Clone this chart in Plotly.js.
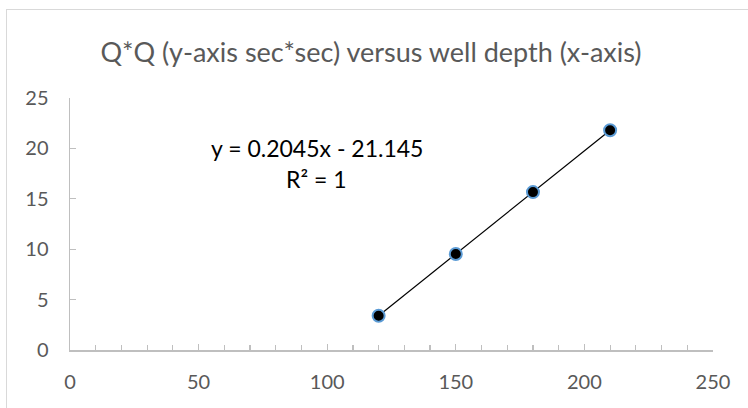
<!DOCTYPE html>
<html>
<head>
<meta charset="utf-8">
<script src="https://cdn.plot.ly/plotly-3.0.1.min.js"></script>
<style>
  html, body { margin: 0; padding: 0; background: #ffffff; }
  #wrap { position: relative; width: 748px; height: 408px; overflow: hidden; background: #ffffff; }
  #frame { position: absolute; left: 6px; top: 9px; width: 760px; height: 420px; border: 1px solid #d9d9d9; box-sizing: border-box; pointer-events: none; }
  #chart { position: absolute; left: 0; top: 0; width: 748px; height: 408px; }
</style>
</head>
<body>
<div id="wrap">
  <div id="chart"></div>
  <div id="frame"></div>
</div>
<script>
// ---- data ----
const depth = [120, 150, 180, 210];
const qq = [3.395, 9.53, 15.665, 21.8];
const xTicks = [0, 50, 100, 150, 200, 250];
const yTicks = [0, 5, 10, 15, 20, 25];
const titleText = 'Q*Q (y-axis sec*sec) versus well depth (x-axis)';
const eqLine = 'y = 0.2045x - 21.145';
const r2Line = 'R² = 1';

// linear least-squares trendline from the data
const n = depth.length;
const mx = depth.reduce((a, b) => a + b, 0) / n;
const my = qq.reduce((a, b) => a + b, 0) / n;
let sxy = 0, sxx = 0;
for (let i = 0; i < n; i++) { sxy += (depth[i] - mx) * (qq[i] - my); sxx += (depth[i] - mx) ** 2; }
const slope = sxy / sxx;
const icpt = my - slope * mx;
const xMin = Math.min(...depth), xMax = Math.max(...depth);
const trendX = [xMin, xMax];
const trendY = trendX.map(v => slope * v + icpt);

const FONT = 'Lato, "Open Sans", sans-serif';
const GREY = '#595959';
const AXIS = '#bfbfbf';

const traces = [
  { x: trendX, y: trendY, mode: 'lines', line: { color: '#000000', width: 1.2 }, hoverinfo: 'skip', showlegend: false },
  { x: depth, y: qq, mode: 'markers', showlegend: false,
    marker: { size: 12, color: '#000000', line: { color: '#5b9bd5', width: 2 } } }
];

const layout = {
  width: 748, height: 408,
  margin: { l: 70, r: 35, t: 98, b: 58 },
  paper_bgcolor: 'rgba(0,0,0,0)', plot_bgcolor: 'rgba(0,0,0,0)',
  font: { family: FONT, color: GREY },
  title: { text: titleText, font: { family: FONT, size: 27, color: GREY },
           x: 0.496, xref: 'container', xanchor: 'center', y: 0.872, yref: 'container', yanchor: 'middle' },
  xaxis: {
    range: [0, 250], tickvals: xTicks, ticktext: xTicks.map(String),
    showgrid: false, zeroline: false, showline: true, linecolor: AXIS, linewidth: 1.5,
    ticks: 'inside', ticklen: 6, tickcolor: AXIS, tickwidth: 1.2,
    minor: { dtick: 10, ticks: 'inside', ticklen: 5, tickcolor: AXIS, tickwidth: 1.2, showgrid: false },
    tickfont: { family: FONT, size: 20, color: GREY }, ticklabelstandoff: 13, fixedrange: true
  },
  yaxis: {
    range: [0, 25], tickvals: yTicks, ticktext: yTicks.map(String),
    showgrid: false, zeroline: false, showline: true, linecolor: AXIS, linewidth: 1.5,
    ticks: 'inside', ticklen: 6, tickcolor: AXIS, tickwidth: 1.2,
    tickfont: { family: FONT, size: 20, color: GREY }, ticklabelstandoff: 16, fixedrange: true
  },
  annotations: [
    { text: eqLine, xref: 'x', yref: 'y', x: 96.0, y: 20.04, xanchor: 'center', yanchor: 'middle',
      showarrow: false, font: { family: FONT, size: 23, color: '#000000' } },
    { text: r2Line, xref: 'x', yref: 'y', x: 96.0, y: 16.96, xanchor: 'center', yanchor: 'middle',
      showarrow: false, font: { family: FONT, size: 23, color: '#000000' } }
  ]
};

Plotly.newPlot('chart', traces, layout, { displayModeBar: false, staticPlot: true });
</script>
</body>
</html>
